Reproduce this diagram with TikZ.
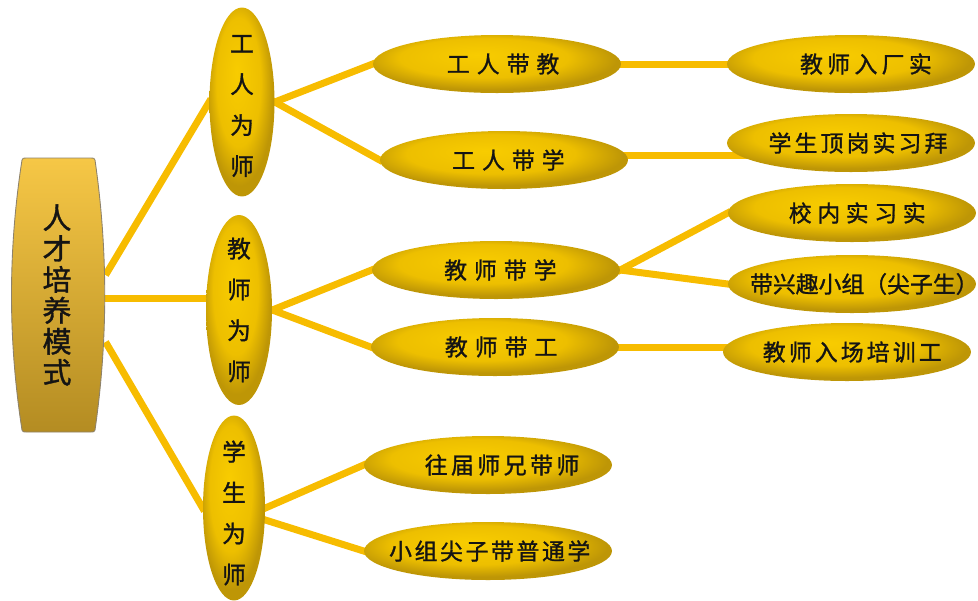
\documentclass[tikz,border=0pt]{standalone}
\usepackage{fontspec}
\newfontfamily\cjk[FakeBold=1.2]{Noto Sans CJK SC}
\usetikzlibrary{shapes.geometric,calc}
\definecolor{g1}{HTML}{F8CC00}
\definecolor{g2}{HTML}{EDBF00}
\definecolor{g3}{HTML}{BE9606}
\definecolor{connc}{HTML}{F7BC00}
\definecolor{txt}{HTML}{141414}
\definecolor{boxtop}{HTML}{F6C746}
\definecolor{boxbot}{HTML}{B48C22}
\definecolor{boxline}{HTML}{8E826A}
\pgfdeclarelayer{bg}
\pgfsetlayers{bg,main}
\pgfdeclareradialshading{goldell}{\pgfpoint{-4bp}{8bp}}{color(0bp)=(g1); color(17bp)=(g2); color(26bp)=(g3); color(50bp)=(g3)}
\newcommand{\lbl}[2]{\makebox[0pt]{\hspace*{#1}#2}}
\newcommand{\gp}[1]{\hspace{#1}}
\tikzset{
  conn/.style={draw=connc, line width=0.14cm, shorten <=-2pt, shorten >=-2pt},
  gold/.style={ellipse, shading=goldell, inner sep=0pt, text=txt},
  lone/.style={gold},
  ltwo/.style={gold, minimum width=4.96cm, minimum height=1.16cm,
    font=\cjk\fontsize{13pt}{15pt}\selectfont},
  vtext/.style={align=center, text=txt, inner sep=0pt,
    font=\cjk\fontsize{13.5pt}{23.3pt}\selectfont},
  boxtext/.style={align=center, text=txt, inner sep=0pt,
    font=\cjk\fontsize{16.5pt}{17.6pt}\selectfont},
}
\begin{document}
\begin{tikzpicture}[x=0.02cm, y=-0.02cm]
\useasboundingbox (0,0) rectangle (978,600);

% left box
\path[draw=boxline, line width=0.5pt, top color=boxtop, bottom color=boxbot]
  (26,158) .. controls (24,158) and (22,158) .. (22,160)
  -- (22,160) .. controls (8,250) and (8,340) .. (22,430)
  .. controls (22,432) and (24,432) .. (26,432) -- (91,432)
  .. controls (93,432) and (95,432) .. (95,430)
  .. controls (108,340) and (108,250) .. (95,160)
  .. controls (95,158) and (93,158) .. (91,158) -- cycle;
\node[boxtext, minimum width=1.8cm, minimum height=5.48cm] (box) at (57,295)
  {人\\才\\培\\养\\模\\式};

% level 1
\node[lone, minimum width=1.3cm, minimum height=3.78cm] (L1a) at (242,102) {};
\node[lone, minimum width=1.32cm, minimum height=3.8cm] (L1b) at (239,310) {};
\node[lone, minimum width=1.24cm, minimum height=3.7cm] (L1c) at (234,508) {};
\node[vtext] at ($(L1a.center)+(0,4)$) {工\\人\\为\\师};
\node[vtext] at ($(L1b.center)+(0,0)$) {教\\师\\为\\师};
\node[vtext] at ($(L1c.center)+(0,5)$) {学\\生\\为\\师};

% level 2
\node[ltwo] (L2a) at (497,64) {\lbl{7pt}{工\gp{4pt}人\gp{4pt}带\gp{4pt}教}};
\node[ltwo] (L2b) at (504,160) {\lbl{5pt}{工\gp{4pt}人\gp{4pt}带\gp{4pt}学}};
\node[ltwo] (L2c) at (496,270) {\lbl{5pt}{教\gp{4pt}师\gp{4pt}带\gp{4pt}学}};
\node[ltwo] (L2d) at (495,347) {\lbl{7pt}{教\gp{4pt}师\gp{4pt}带\gp{4pt}工}};
\node[ltwo] (L2e) at (488,465) {\lbl{16pt}{往\gp{2pt}届\gp{2pt}师\gp{2pt}兄\gp{2pt}带\gp{2pt}师}};
\node[ltwo] (L2f) at (488,551) {\lbl{2pt}{小\gp{1.5pt}组\gp{1.5pt}尖\gp{1.5pt}子\gp{1.5pt}带\gp{1.5pt}普\gp{1.5pt}通\gp{1.5pt}学}};

% level 3
\node[ltwo] (L3a) at (851,64) {\lbl{17pt}{教\gp{2.5pt}师\gp{2.5pt}入\gp{2.5pt}厂\gp{2.5pt}实}};
\node[ltwo] (L3b) at (851,143) {\lbl{8pt}{学\gp{1.8pt}生\gp{1.8pt}顶\gp{1.8pt}岗\gp{1.8pt}实\gp{1.8pt}习\gp{1.8pt}拜}};
\node[ltwo] (L3c) at (852,213) {\lbl{6pt}{校\gp{3.2pt}内\gp{3.2pt}实\gp{3.2pt}习\gp{3.2pt}实}};
\node[ltwo] (L3d) at (852,284) {\lbl{14pt}{带兴趣小组（尖子生）}};
\node[ltwo] (L3e) at (847,352) {\lbl{6pt}{教\gp{1.8pt}师\gp{1.8pt}入\gp{1.8pt}场\gp{1.8pt}培\gp{1.8pt}训\gp{1.8pt}工}};

% connectors
\begin{pgfonlayer}{bg}
\coordinate (m1) at ($(box.east)+(5,-23)$);
\coordinate (m2) at ($(box.east)+(5,3)$);
\coordinate (m3) at ($(box.east)+(5,50)$);
\draw[conn] (m1) -- (L1a.west);
\draw[conn] (m2) -- ($(m2 -| L1b.west)+(6,0)$);
\draw[conn] (m3) -- (L1c.west);

\draw[conn] (L1a.east) -- (L2a.west);
\draw[conn] (L1a.east) -- (L2b.west);
\draw[conn] (L1b.east) -- (L2c.west);
\draw[conn] (L1b.east) -- (L2d.west);
\draw[conn] (L1c.east) -- (L2e.west);
\draw[conn] ($(L1c.east)+(0,12)$) -- (L2f.west);

\draw[conn] (L2a.center) -- (L3a.center);
\coordinate (h2) at ($(L2b.center)+(0,-5)$);
\draw[conn] (h2) -- (h2 -| L3b.center);
\draw[conn] (L2c.east) -- (L3c.west);
\draw[conn] (L2c.east) -- (L3d.west);
\draw[conn] (L2d.center) -- (L2d.center -| L3e.center);
\end{pgfonlayer}
\end{tikzpicture}
\end{document}
